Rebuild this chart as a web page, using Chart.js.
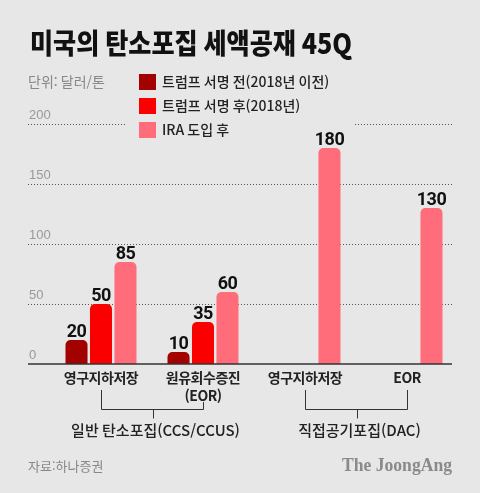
<!DOCTYPE html>
<html lang="ko">
<head>
<meta charset="utf-8">
<script src="https://cdn.jsdelivr.net/npm/chart.js@4.4.0/dist/chart.umd.min.js"></script>
<style>
html, body { margin: 0; padding: 0; background: #e7e7e7; }
#wrap { width: 480px; height: 493px; }
</style>
</head>
<body>
<div id="wrap"><canvas id="chart" width="480" height="493"></canvas></div>
<script>
'use strict';

/* ── Data ───────────────────────────────────────────── */
const CATEGORIES   = [['영구지하저장'], ['원유회수증진', '(EOR)'], ['영구지하저장'], ['EOR']];
const SERIES_NAMES = ['트럼프 서명 전(2018년 이전)', '트럼프 서명 후(2018년)', 'IRA 도입 후'];
const BEFORE_2018  = [20, 10, null, null];
const SIGNED_2018  = [50, 35, null, null];
const AFTER_IRA    = [85, 60, 180, 130];
const Y_TICKS      = [0, 50, 100, 150, 200];
const GROUP_NAMES  = ['일반 탄소포집(CCS/CCUS)', '직접공기포집(DAC)'];
const GROUP_SPANS  = [[0, 1], [2, 3]];

const TITLE  = '미국의 탄소포집 세액공재 45Q';
const UNIT   = '단위: 달러/톤';
const SOURCE = '자료:하나증권';
const BRAND  = 'The JoongAng';

const COLORS = ['#a30000', '#fa0000', '#ff6d7a'];
const BG = '#e7e7e7';
const SANS = '"Noto Sans CJK KR", "Noto Sans", sans-serif';
const GRID_LEFT = 28, GRID_RIGHT = 452;

/* ── Decorations plugin ─────────────────────────────── */
const decor = {
    id: 'decor',
    beforeDatasetsDraw(chart) {
        const { ctx, scales: { y } } = chart;
        ctx.save();

        // dotted grid + tick labels
        ctx.strokeStyle = '#555';
        ctx.lineWidth = 1;
        ctx.setLineDash([1, 2]);
        ctx.font = `400 13px "Liberation Sans", Arial, sans-serif`;
        ctx.fillStyle = '#999';
        ctx.textAlign = 'left';
        ctx.textBaseline = 'bottom';
        Y_TICKS.forEach(v => {
            const py = Math.round(y.getPixelForValue(v)) + 0.5;
            if (v !== 0) {
                ctx.beginPath();
                ctx.moveTo(GRID_LEFT, py);
                ctx.lineTo(GRID_RIGHT, py);
                ctx.stroke();
            }
            ctx.fillText(String(v), GRID_LEFT + 1, py - 3);
        });
        ctx.setLineDash([]);

        // legend (own background hides the grid behind it)
        ctx.fillStyle = BG;
        ctx.fillRect(127, 66, 226, 76);
        ctx.font = `500 14px ${SANS}`;
        ctx.textBaseline = 'middle';
        chart.data.datasets.forEach((ds, i) => {
            const cy = 82 + i * 24;
            ctx.fillStyle = ds.backgroundColor;
            ctx.fillRect(139, cy - 8, 17, 16);
            ctx.fillStyle = '#222';
            ctx.fillText(ds.label, 162, cy);
        });
        ctx.restore();
    },
    afterDatasetsDraw(chart) {
        const { ctx, scales: { x, y } } = chart;
        ctx.save();

        // baseline
        const base = y.getPixelForValue(0);
        ctx.strokeStyle = '#333';
        ctx.lineWidth = 1.5;
        ctx.beginPath();
        ctx.moveTo(GRID_LEFT, base);
        ctx.lineTo(GRID_RIGHT, base);
        ctx.stroke();

        // value labels
        ctx.fillStyle = '#111';
        ctx.font = `700 18px Roboto, "Liberation Sans", sans-serif`;
        ctx.textAlign = 'center';
        ctx.textBaseline = 'alphabetic';
        ctx.letterSpacing = '-0.5px';
        chart.data.datasets.forEach((ds, di) => {
            chart.getDatasetMeta(di).data.forEach((el, i) => {
                if (ds.data[i] == null) return;
                ctx.fillText(String(ds.data[i]), el.x, el.y - 3);
            });
        });

        // category labels
        ctx.font = `600 14px ${SANS}`;
        ctx.letterSpacing = '-0.5px';
        ctx.fillStyle = '#222';
        ctx.textBaseline = 'middle';
        CATEGORIES.forEach((lines, i) => {
            const px = x.getPixelForValue(i);
            lines.forEach((t, li) => ctx.fillText(t, px, base + 14 + li * 18));
        });

        // brackets and group names
        ctx.strokeStyle = '#333';
        ctx.lineWidth = 1;
        const barY = base + 45.5;
        ctx.font = `500 15px ${SANS}`;
        ctx.letterSpacing = '0px';
        GROUP_SPANS.forEach(([a, b], gi) => {
            const xa = Math.round(x.getPixelForValue(a)) + 0.5;
            const xb = Math.round(x.getPixelForValue(b)) + 0.5;
            const mid = Math.round((xa + xb) / 2) + 0.5;
            ctx.beginPath();
            ctx.moveTo(xa, base + 26 + (CATEGORIES[a].length - 1) * 12);
            ctx.lineTo(xa, barY);
            ctx.lineTo(xb, barY);
            ctx.lineTo(xb, base + 26 + (CATEGORIES[b].length - 1) * 12);
            ctx.moveTo(mid, barY);
            ctx.lineTo(mid, barY + 9);
            ctx.stroke();
            ctx.fillText(GROUP_NAMES[gi], mid + 2, base + 66);
        });
        ctx.restore();
    },
    afterDraw(chart) {
        const { ctx } = chart;
        ctx.save();

        // title
        ctx.fillStyle = '#111';
        ctx.font = `900 28px ${SANS}`;
        ctx.textAlign = 'left';
        ctx.textBaseline = 'middle';
        ctx.fillText(TITLE, 30, 43, 322);

        // unit
        ctx.fillStyle = '#888';
        ctx.font = `400 14px ${SANS}`;
        ctx.fillText(UNIT, 28, 82, 80);

        // footer
        ctx.fillStyle = '#888';
        ctx.font = `400 13px ${SANS}`;
        ctx.fillText(SOURCE, 28, 466, 80);
        ctx.fillStyle = '#8a8a8a';
        ctx.font = `700 18px "Liberation Serif", "DejaVu Serif", serif`;
        ctx.textAlign = 'right';
        ctx.fillText(BRAND, 452, 466, 110);
        ctx.restore();
    }
};

/* ── Chart ──────────────────────────────────────────── */
const barStyle = color => ({
    backgroundColor: color,
    borderRadius: { topLeft: 5, topRight: 5, bottomLeft: 0, bottomRight: 0 },
    borderSkipped: 'bottom',
    categoryPercentage: 0.72,
    barPercentage: 0.9,
});

new Chart(document.getElementById('chart'), {
    type: 'bar',
    data: {
        labels: CATEGORIES,
        datasets: [
            { label: SERIES_NAMES[0], data: BEFORE_2018, ...barStyle(COLORS[0]) },
            { label: SERIES_NAMES[1], data: SIGNED_2018, ...barStyle(COLORS[1]) },
            { label: SERIES_NAMES[2], data: AFTER_IRA,   ...barStyle(COLORS[2]) },
        ]
    },
    options: {
        responsive: false,
        animation: false,
        layout: { padding: { left: 50, right: 22, top: 124, bottom: 129 } },
        plugins: { legend: { display: false }, tooltip: { enabled: false } },
        scales: {
            x: { display: false },
            y: { display: false, min: 0, max: 200 }
        }
    },
    plugins: [decor]
});
</script>
</body>
</html>
